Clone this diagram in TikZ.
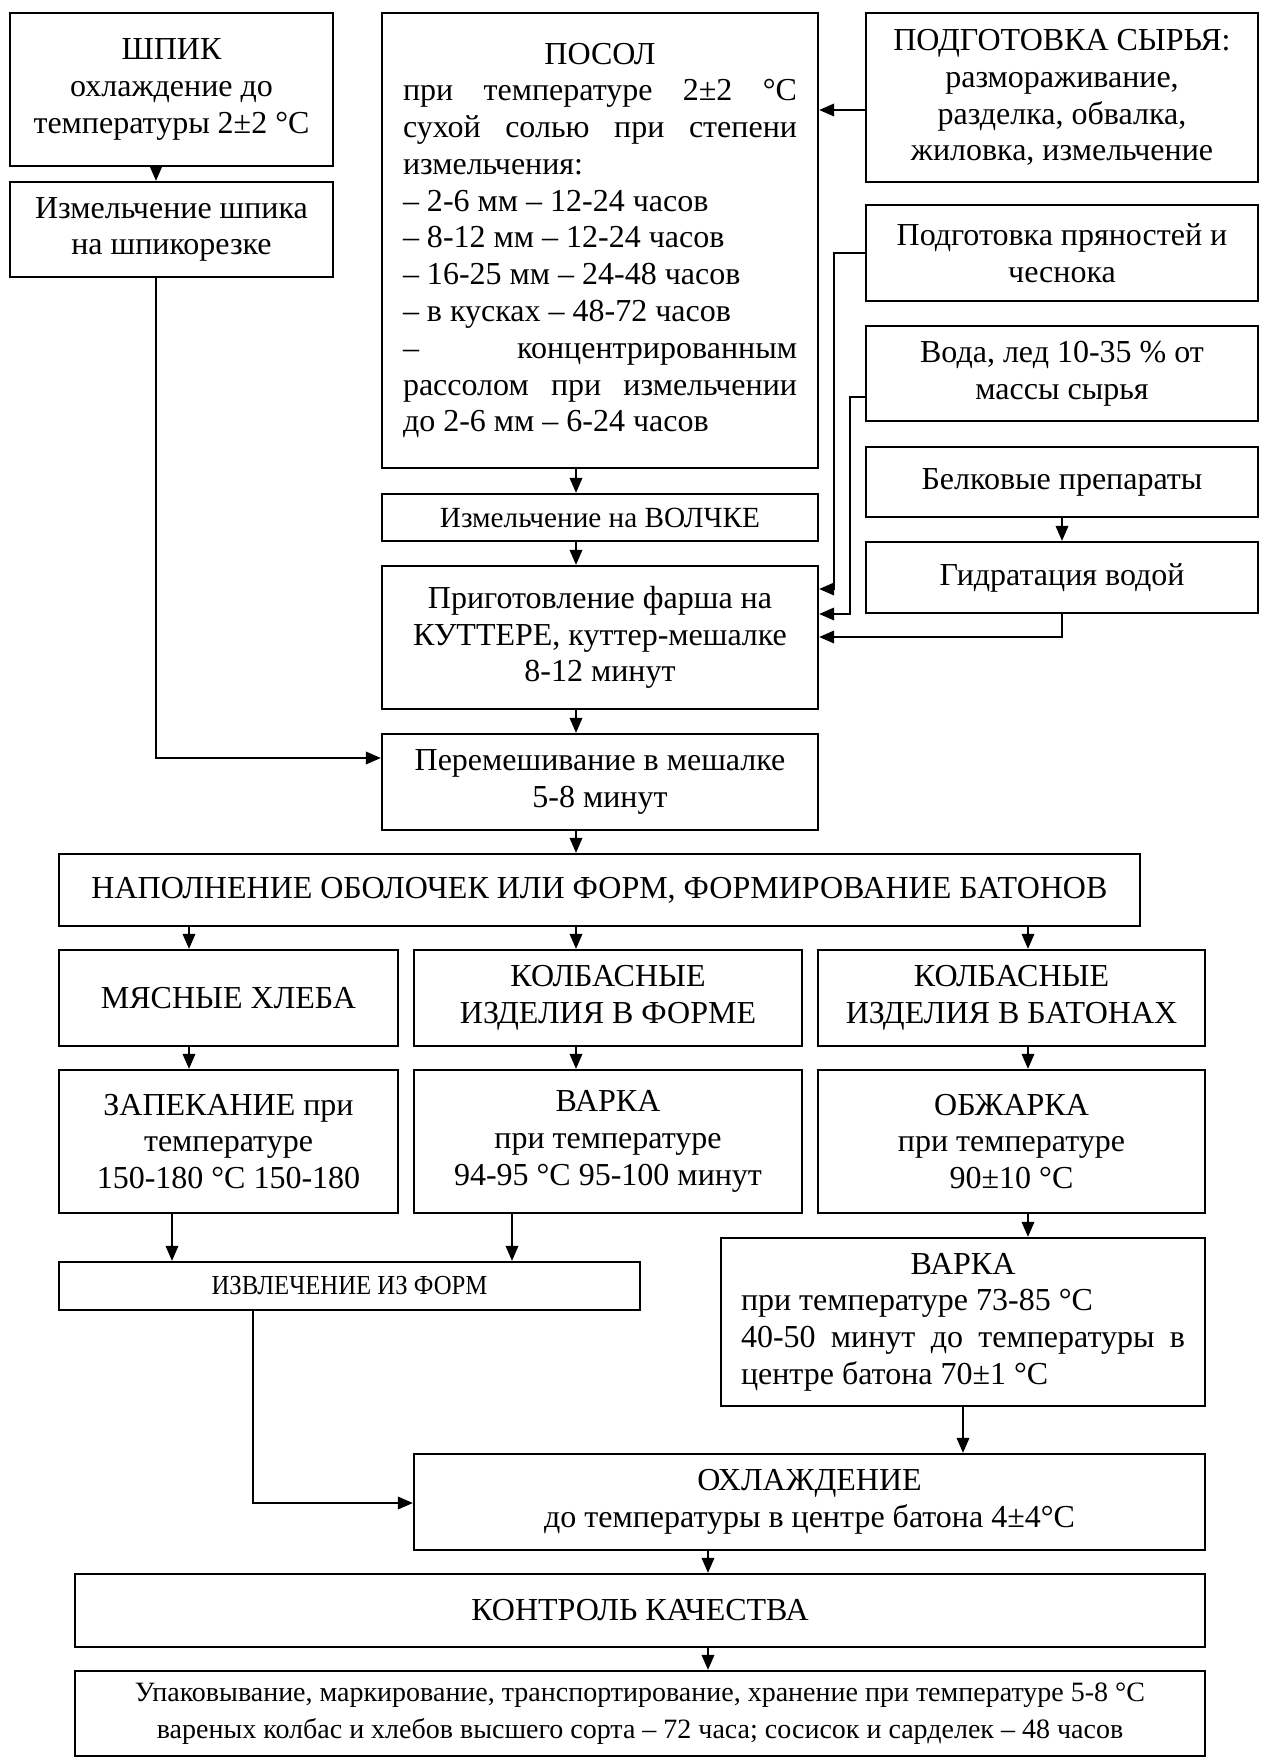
\documentclass[tikz,border=0pt]{standalone}
\usepackage{fontspec}
\usepackage{graphicx}
\setmainfont{Liberation Serif}
\usetikzlibrary{arrows.meta}

\tikzset{
  box/.style={draw, line width=0.9pt, inner sep=0pt, align=center,
    font=\fontsize{12.8pt}{14.7pt}\selectfont},
  smallbox/.style={box, font=\fontsize{11.7pt}{14pt}\selectfont},
  arr/.style={line width=0.8pt, -{Triangle[length=6pt,width=5pt]}}
}

\begin{document}
\begin{tikzpicture}[x=0.4pt,y=-0.4pt]
  \useasboundingbox (0,0) rectangle (1260,1759);

  % left column: fat
  \node[box, minimum width=129.2pt, minimum height=61.2pt] (shpik) at (171.5,89.5)
    {ШПИК\\охлаждение до\\температуры 2±2 °C};
  \node[box, minimum width=129.2pt, minimum height=38pt] (shpikrez) at (171.5,229.5)
    {Измельчение шпика\\на шпикорезке};

  % curing
  \node[box, minimum width=174.4pt, minimum height=182pt, text width=157.6pt, align=left]
    (posol) at (600,240.5)
    {\spaceskip=0pt\xspaceskip=0pt
     \makebox[\linewidth]{ПОСОЛ}\\
     \makebox[\linewidth][s]{при температуре 2±2 °C}\\
     \makebox[\linewidth][s]{сухой солью при степени}\\
     измельчения:\\
     – 2-6 мм – 12-24 часов\\
     – 8-12 мм – 12-24 часов\\
     – 16-25 мм – 24-48 часов\\
     – в кусках – 48-72 часов\\
     \makebox[\linewidth][s]{– концентрированным}\\
     \makebox[\linewidth][s]{рассолом при измельчении}\\
     до 2-6 мм – 6-24 часов};

  % right column: raw materials
  \node[box, minimum width=156.8pt, minimum height=67.6pt] (syrye) at (1062,97.5)
    {ПОДГОТОВКА СЫРЬЯ:\\размораживание,\\разделка, обвалка,\\жиловка, измельчение};
  \node[box, minimum width=156.8pt, minimum height=38.4pt] (spices) at (1062,253)
    {Подготовка пряностей и\\чеснока};
  \node[box, minimum width=156.8pt, minimum height=38pt] (water) at (1062,373.5)
    {Вода, лед 10-35 \% от\\массы сырья};
  \node[box, minimum width=156.8pt, minimum height=28pt] (belki) at (1062,482)
    {Белковые препараты};
  \node[box, minimum width=156.8pt, minimum height=28.4pt] (gidr) at (1062,577.5)
    {Гидратация водой};

  % mincing and mixing
  \node[smallbox, minimum width=174.4pt, minimum height=18.8pt] (volchok) at (600,517.5)
    {Измельчение на ВОЛЧКЕ};
  \node[box, minimum width=174.4pt, minimum height=57.2pt] (farsh) at (600,637.5)
    {Приготовление фарша на\\КУТТЕРЕ, куттер-мешалке\\8-12 минут};
  \node[box, minimum width=174.4pt, minimum height=38.4pt] (peremesh) at (600,782)
    {Перемешивание в мешалке\\5-8 минут};
  \node[box, minimum width=432.4pt, minimum height=28.8pt] (napoln) at (599.5,890)
    {НАПОЛНЕНИЕ ОБОЛОЧЕК ИЛИ ФОРМ, ФОРМИРОВАНИЕ БАТОНОВ};

  % three branches
  \node[box, minimum width=135.6pt, minimum height=38.4pt] (khleb) at (228.5,998)
    {МЯСНЫЕ ХЛЕБА};
  \node[box, minimum width=155.2pt, minimum height=38.4pt] (forma) at (608,998)
    {КОЛБАСНЫЕ\\ИЗДЕЛИЯ В ФОРМЕ};
  \node[box, minimum width=154.8pt, minimum height=38.4pt] (baton) at (1011.5,998)
    {КОЛБАСНЫЕ\\ИЗДЕЛИЯ В БАТОНАХ};
  \node[box, minimum width=135.6pt, minimum height=57.2pt] (zapek) at (228.5,1141.5)
    {ЗАПЕКАНИЕ при\\температуре\\150-180 °C 150-180};
  \node[box, minimum width=155.2pt, minimum height=57.2pt] (varka) at (608,1141.5)
    {ВАРКА\\при температуре\\94-95 °C 95-100 минут};
  \node[box, minimum width=154.8pt, minimum height=57.2pt] (obzh) at (1011.5,1141.5)
    {ОБЖАРКА\\при температуре\\90±10 °C};
  \node[smallbox, minimum width=232.4pt, minimum height=19.2pt,
    font=\fontsize{11pt}{14pt}\selectfont] (izvl) at (349.5,1286)
    {\scalebox{0.9}[1]{ИЗВЛЕЧЕНИЕ ИЗ ФОРМ}};
  \node[box, minimum width=193.6pt, minimum height=67.2pt, text width=177.6pt, align=left]
    (varkab) at (963,1322)
    {\spaceskip=0pt\xspaceskip=0pt
     \makebox[\linewidth]{ВАРКА}\\
     при температуре 73-85 °C\\
     \makebox[\linewidth][s]{40-50 минут до температуры в}\\
     центре батона 70±1 °C};

  % final steps
  \node[box, minimum width=316.4pt, minimum height=38.4pt] (okhl) at (809.5,1502)
    {ОХЛАЖДЕНИЕ\\до температуры в центре батона 4±4°C};
  \node[box, minimum width=452pt, minimum height=29.2pt] (kontrol) at (640,1610.5)
    {КОНТРОЛЬ КАЧЕСТВА};
  \node[box, minimum width=452pt, minimum height=34pt,
    font=\fontsize{11.2pt}{15pt}\selectfont] (upak) at (640,1713.5)
    {Упаковывание, маркирование, транспортирование, хранение при температуре 5-8 °C\\
     вареных колбас и хлебов высшего сорта – 72 часа; сосисок и сарделек – 48 часов};

  % points for the connectors
  \coordinate (xs) at (156,0);
  \coordinate (pm) at (156,758);
  \coordinate (spine) at (576,0);
  \coordinate (ys) at (0,110);
  \coordinate (sp) at (834,589);
  \coordinate (wa) at (850,397);
  \coordinate (wb) at (850,614);
  \coordinate (gd) at (0,637);
  \coordinate (xl) at (189,0);
  \coordinate (xr) at (1028,0);
  \coordinate (xz) at (172,0);
  \coordinate (xv) at (512,0);
  \coordinate (iz) at (253,1503);
  \coordinate (xk) at (708,0);

  \draw[arr] (shpik.south -| xs) -- (shpikrez.north -| xs);
  \draw[arr] (shpikrez.south -| pm) -- (pm) -- (peremesh.west |- pm);

  \draw[arr] (syrye.west |- ys) -- (posol.east |- ys);
  \draw[arr] (spices.west) -| (sp) -- (farsh.east |- sp);
  \draw[arr] (water.west |- wa) -- (wa) -- (wb) -- (farsh.east |- wb);
  \draw[arr] (belki.south) -- (gidr.north);
  \draw[arr] (gidr.south) |- (farsh.east |- gd);

  \draw[arr] (posol.south -| spine) -- (volchok.north -| spine);
  \draw[arr] (volchok.south -| spine) -- (farsh.north -| spine);
  \draw[arr] (farsh.south -| spine) -- (peremesh.north -| spine);
  \draw[arr] (peremesh.south -| spine) -- (napoln.north -| spine);

  \draw[arr] (napoln.south -| xl) -- (khleb.north -| xl);
  \draw[arr] (napoln.south -| spine) -- (forma.north -| spine);
  \draw[arr] (napoln.south -| xr) -- (baton.north -| xr);
  \draw[arr] (khleb.south -| xl) -- (zapek.north -| xl);
  \draw[arr] (forma.south -| spine) -- (varka.north -| spine);
  \draw[arr] (baton.south -| xr) -- (obzh.north -| xr);
  \draw[arr] (obzh.south -| xr) -- (varkab.north -| xr);

  \draw[arr] (zapek.south -| xz) -- (izvl.north -| xz);
  \draw[arr] (varka.south -| xv) -- (izvl.north -| xv);
  \draw[arr] (izvl.south -| iz) -- (iz) -- (okhl.west |- iz);
  \draw[arr] (varkab.south) -- (okhl.north -| varkab.south);
  \draw[arr] (okhl.south -| xk) -- (kontrol.north -| xk);
  \draw[arr] (kontrol.south -| xk) -- (upak.north -| xk);
\end{tikzpicture}
\end{document}
